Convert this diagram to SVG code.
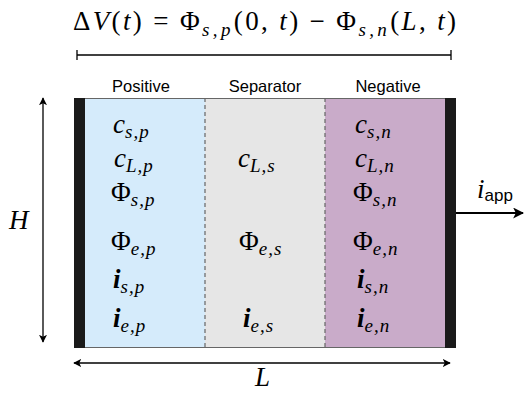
<svg xmlns="http://www.w3.org/2000/svg" width="525" height="393" viewBox="0 0 525 393">
<defs>
<marker id="ah" viewBox="0 0 10 10" refX="9" refY="5" markerWidth="8" markerHeight="8" markerUnits="userSpaceOnUse" orient="auto-start-reverse">
<path d="M0,0 L10,5 L0,10 L2.5,5 Z" fill="#000"/>
</marker>
<marker id="ahb" viewBox="0 0 10 10" refX="9" refY="5" markerWidth="11" markerHeight="11" markerUnits="userSpaceOnUse" orient="auto">
<path d="M0,0 L10,5 L0,10 L2.5,5 Z" fill="#000"/>
</marker>
</defs>
<style>
.m{font-family:"Liberation Serif","DejaVu Serif",serif;font-size:27px;fill:#000}
.mi{font-style:italic}
.sub{font-family:"Liberation Serif","DejaVu Serif",serif;font-style:italic;font-size:19px;letter-spacing:1px}
.bi{font-style:italic;font-weight:bold}
.hdr{font-family:"Liberation Sans","DejaVu Sans",sans-serif;font-size:16.5px;fill:#000;text-anchor:middle}
.ln{stroke:#000;stroke-width:1.3;fill:none}
.dash{stroke:#666;stroke-width:1.2;stroke-dasharray:4,3}
</style>
<rect width="525" height="393" fill="#fff"/>

<g id="equation">
<text class="m" x="73" y="30" font-size="30" textLength="383" lengthAdjust="spacing"><tspan>Δ</tspan><tspan class="mi">V</tspan><tspan>(</tspan><tspan class="mi">t</tspan><tspan>) = Φ</tspan><tspan class="sub" font-size="21" dy="6">s,p</tspan><tspan dy="-6">(0, </tspan><tspan class="mi">t</tspan><tspan>) − Φ</tspan><tspan class="sub" font-size="21" dy="6">s,n</tspan><tspan dy="-6">(</tspan><tspan class="mi">L</tspan><tspan>, </tspan><tspan class="mi">t</tspan><tspan>)</tspan></text>
</g>

<g id="positive">
<rect x="85" y="98" width="120" height="250" fill="#d5ebfb"/>
<text class="hdr" x="141" y="92">Positive</text>
</g>
<g id="separator">
<rect x="205" y="98" width="120" height="250" fill="#e6e6e6"/>
<text class="hdr" x="265" y="92">Separator</text>
</g>
<g id="negative">
<rect x="325" y="98" width="120" height="250" fill="#c9abc9"/>
<text class="hdr" x="388" y="92">Negative</text>
</g>
<g id="borders">
<line x1="85" y1="98.5" x2="445" y2="98.5" stroke="#666" stroke-width="1"/>
<line x1="85" y1="347.5" x2="445" y2="347.5" stroke="#666" stroke-width="1"/>
<line class="dash" x1="205" y1="98" x2="205" y2="348"/>
<line class="dash" x1="325" y1="98" x2="325" y2="348"/>
</g>
<g id="collector-left"><rect x="74" y="98" width="11" height="250" fill="#1a1a1a"/></g>
<g id="collector-right"><rect x="445" y="98" width="11" height="250" fill="#1a1a1a"/></g>

<g id="vars-positive">
<text class="m" x="113" y="133"><tspan class="mi">c</tspan><tspan class="sub" dy="5">s,p</tspan></text>
<text class="m" x="114" y="167"><tspan class="mi">c</tspan><tspan class="sub" dy="5">L,p</tspan></text>
<text class="m" x="111" y="201"><tspan>Φ</tspan><tspan class="sub" dy="5">s,p</tspan></text>
<text class="m" x="111" y="250"><tspan>Φ</tspan><tspan class="sub" dy="5">e,p</tspan></text>
<text class="m" x="113" y="288"><tspan class="bi">i</tspan><tspan class="sub" dy="5">s,p</tspan></text>
<text class="m" x="113" y="327"><tspan class="bi">i</tspan><tspan class="sub" dy="5">e,p</tspan></text>
</g>
<g id="vars-separator">
<text class="m" x="238" y="167"><tspan class="mi">c</tspan><tspan class="sub" dy="5">L,s</tspan></text>
<text class="m" x="239" y="250"><tspan>Φ</tspan><tspan class="sub" dy="5">e,s</tspan></text>
<text class="m" x="243" y="327"><tspan class="bi">i</tspan><tspan class="sub" dy="5">e,s</tspan></text>
</g>
<g id="vars-negative">
<text class="m" x="355" y="133"><tspan class="mi">c</tspan><tspan class="sub" dy="5">s,n</tspan></text>
<text class="m" x="355" y="167"><tspan class="mi">c</tspan><tspan class="sub" dy="5">L,n</tspan></text>
<text class="m" x="353" y="201"><tspan>Φ</tspan><tspan class="sub" dy="5">s,n</tspan></text>
<text class="m" x="353" y="250"><tspan>Φ</tspan><tspan class="sub" dy="5">e,n</tspan></text>
<text class="m" x="357" y="288"><tspan class="bi">i</tspan><tspan class="sub" dy="5">s,n</tspan></text>
<text class="m" x="357" y="327"><tspan class="bi">i</tspan><tspan class="sub" dy="5">e,n</tspan></text>
</g>

<g id="labels">
<text class="m mi" x="9" y="229" font-size="29">H</text>
<text class="m mi" x="255" y="386" font-size="28">L</text>
<text class="m" x="477" y="198"><tspan class="mi">i</tspan><tspan font-family="Liberation Sans, DejaVu Sans, sans-serif" font-size="17" dy="3">app</tspan></text>
</g>

<g id="connectors">
<line class="ln" x1="77" y1="55" x2="451" y2="55"/>
<line class="ln" x1="77" y1="50" x2="77" y2="60"/>
<line class="ln" x1="451" y1="50" x2="451" y2="60"/>
<line class="ln" x1="43" y1="98" x2="43" y2="342" marker-start="url(#ah)" marker-end="url(#ah)"/>
<line class="ln" x1="74" y1="363" x2="450" y2="363" marker-start="url(#ah)" marker-end="url(#ah)"/>
<line x1="456" y1="213" x2="523" y2="213" stroke="#000" stroke-width="2.2" marker-end="url(#ahb)"/>
</g>
</svg>
